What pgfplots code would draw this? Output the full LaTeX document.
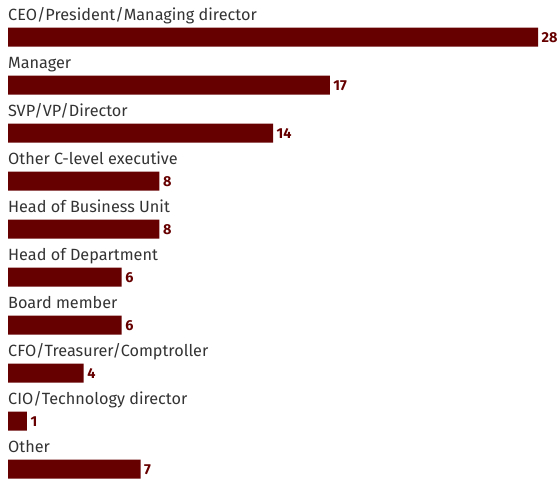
\documentclass[border=0pt]{standalone}
\usepackage{fontspec}
\setmainfont{Fira Sans}
\usepackage{pgfplots}
\pgfplotsset{compat=1.18}
\definecolor{barred}{HTML}{660000}
\definecolor{txt}{HTML}{333333}
\tikzset{catlab/.style={anchor=base west, inner sep=0pt, yshift=17bp, text=txt, font=\fontsize{16.3}{16}\selectfont}}
\begin{document}
\begin{tikzpicture}
\begin{axis}[
  scale only axis, width=530bp, height=480bp,
  xbar, bar width=19bp,
  xmin=0, xmax=28, ymin=-0.771, ymax=9.229, y dir=reverse,
  hide axis, clip=false,
  /pgf/number format/assume math mode=true,
  nodes near coords,
  nodes near coords style={font=\bfseries\fontsize{14.5}{14}\selectfont, text=barred, anchor=west, inner sep=0pt, xshift=3.5bp, yshift=-0.5bp},
]
\addplot[fill=barred, draw=none] coordinates {(28,0) (17,1) (14,2) (8,3) (8,4) (6,5) (6,6) (4,7) (1,8) (7,9)};
\node[catlab] at (axis cs:0,0) {CEO/President/Managing director};
\node[catlab] at (axis cs:0,1) {Manager};
\node[catlab] at (axis cs:0,2) {SVP/VP/Director};
\node[catlab] at (axis cs:0,3) {Other C-level executive};
\node[catlab] at (axis cs:0,4) {Head of Business Unit};
\node[catlab] at (axis cs:0,5) {Head of Department};
\node[catlab] at (axis cs:0,6) {Board member};
\node[catlab] at (axis cs:0,7) {CFO/Treasurer/Comptroller};
\node[catlab] at (axis cs:0,8) {CIO/Technology director};
\node[catlab] at (axis cs:0,9) {Other};
\end{axis}
\pgfresetboundingbox
\path ([xshift=-8bp]current axis.south west) rectangle ([xshift=20bp]current axis.north east);
\end{tikzpicture}
\end{document}
